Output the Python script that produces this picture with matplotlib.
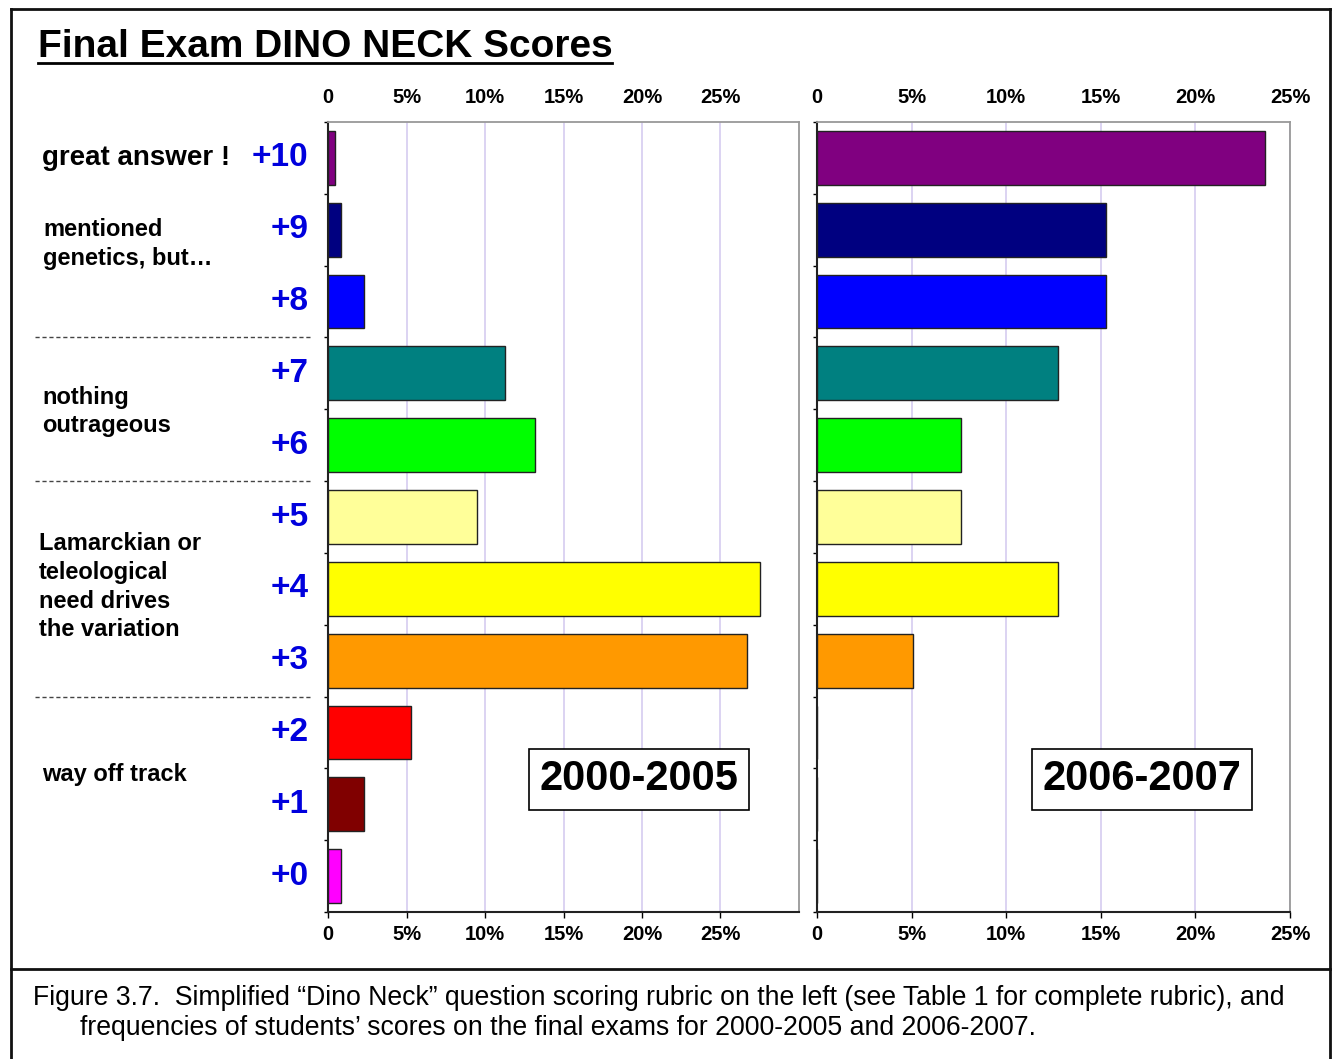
import numpy as np
import matplotlib.pyplot as plt
from matplotlib import transforms
from matplotlib.lines import Line2D

plt.rcParams['font.family'] = ['Liberation Sans', 'DejaVu Sans']

# scores, top to bottom
scores = [10, 9, 8, 7, 6, 5, 4, 3, 2, 1, 0]
score_labels = ['+10', '+9', '+8', '+7', '+6', '+5', '+4', '+3', '+2', '+1', '+0']
pct_2000_2005 = [0.45, 0.85, 2.3, 11.3, 13.2, 9.5, 27.5, 26.7, 5.3, 2.3, 0.8]
pct_2006_2007 = [23.7, 15.3, 15.3, 12.75, 7.6, 7.6, 12.75, 5.1, 0, 0, 0]
bar_colors = ['#800080', '#000080', '#0000FF', '#008080', '#00FF00', '#FFFF99',
              '#FFFF00', '#FF9900', '#FF0000', '#800000', '#FF00FF']

x_ticks = [0, 5, 10, 15, 20, 25]
x_tick_labels = ['0', '5%', '10%', '15%', '20%', '25%']

group_texts = ['great answer !', 'mentioned\ngenetics, but…', 'nothing\noutrageous',
               'Lamarckian or\nteleological\nneed drives\nthe variation', 'way off track']
group_rows = [10, 8.8, 6.47, 4.03, 1.42]
group_boundaries = [7.5, 5.5, 2.5]

W, H = 1335, 1059
fig = plt.figure(figsize=(W / 100, H / 100), dpi=100)


def fx(px):
    return px / W


def fy(py):
    return 1 - py / H


ax1 = fig.add_axes([fx(328), fy(912), (799 - 328) / W, (912 - 122) / H])
ax2 = fig.add_axes([fx(817), fy(912), (1290 - 817) / W, (912 - 122) / H])


def draw_panel(ax, values, xmax, period, box_x):
    ax.barh(scores, values, height=0.75, color=bar_colors,
            edgecolor='#222222', linewidth=1, zorder=3)
    ax.set_xlim(0, xmax)
    ax.set_ylim(-0.5, 10.5)
    ax.set_axisbelow(True)
    ax.grid(axis='x', color='#D5CCF0', linewidth=1.2)

    ax.set_xticks(x_ticks)
    ax.set_xticklabels(x_tick_labels, fontsize=14.5, fontweight='bold')
    ax.tick_params(axis='x', direction='out', length=4, width=1, pad=5)

    top = ax.secondary_xaxis('top')
    top.set_xticks(x_ticks)
    top.set_xticklabels(x_tick_labels, fontsize=14.5, fontweight='bold')
    top.tick_params(length=0, pad=11)
    top.spines['top'].set_visible(False)

    ax.set_yticks(scores)
    ax.set_yticks(np.arange(-0.5, 11, 1), minor=True)
    ax.tick_params(axis='y', which='major', length=0)
    ax.tick_params(axis='y', which='minor', length=3, width=1)

    for s in ['left', 'bottom']:
        ax.spines[s].set_color('#222222')
        ax.spines[s].set_linewidth(1.5)
    for s in ['top', 'right']:
        ax.spines[s].set_color('#999999')
        ax.spines[s].set_linewidth(1.3)

    ax.text(box_x, 0.168, period, transform=ax.transAxes, ha='center', va='center',
            fontsize=30, fontweight='bold',
            bbox=dict(boxstyle='square,pad=0.25', facecolor='white',
                      edgecolor='black', linewidth=1.2), zorder=5)


draw_panel(ax1, pct_2000_2005, 30, '2000-2005', 0.661)
draw_panel(ax2, pct_2006_2007, 25, '2006-2007', 0.687)

ax1.set_yticklabels(score_labels, color='#0000DD', fontsize=24, fontweight='bold', va='center')
ax1.tick_params(axis='y', which='major', pad=14)
ax2.set_yticklabels([])

# rubric groups on the left
blend = transforms.blended_transform_factory(fig.transFigure, ax1.transData)
for i, (txt, row) in enumerate(zip(group_texts, group_rows)):
    size = 20 if i == 0 else 17
    x0 = 42 if i in (0, 2, 4) else (43 if i == 1 else 39)
    fig.text(fx(x0), row, txt, transform=blend, ha='left', va='center',
             fontsize=size, fontweight='bold', linespacing=1.32)

for b in group_boundaries:
    fig.add_artist(Line2D([fx(35), fx(312)], [b, b], transform=blend,
                          color='#444444', linewidth=1, linestyle=(0, (3, 2))))

# title
fig.text(fx(38), fy(57), 'Final Exam DINO NECK Scores', ha='left', va='baseline',
         fontsize=28, fontweight='bold')
fig.add_artist(Line2D([fx(38), fx(612)], [fy(63), fy(63)], color='black', linewidth=2))

# frame
frame = dict(color='#111111', linewidth=2)
fig.add_artist(Line2D([fx(11), fx(1330)], [fy(9), fy(9)], **frame))
fig.add_artist(Line2D([fx(11), fx(11)], [fy(9), 0], **frame))
fig.add_artist(Line2D([fx(1330), fx(1330)], [fy(9), 0], **frame))
fig.add_artist(Line2D([fx(11), fx(1330)], [fy(969), fy(969)], **frame))

# caption
fig.text(fx(33), fy(998), 'Figure 3.7.  Simplified \u201cDino Neck\u201d question scoring rubric on the left '
         '(see Table 1 for complete rubric), and', ha='left', va='center', fontsize=19.2)
fig.text(fx(80), fy(1028), 'frequencies of students\u2019 scores on the final exams for 2000-2005 and 2006-2007.',
         ha='left', va='center', fontsize=19.2)

fig.savefig('out.png', dpi=100, facecolor='white')
